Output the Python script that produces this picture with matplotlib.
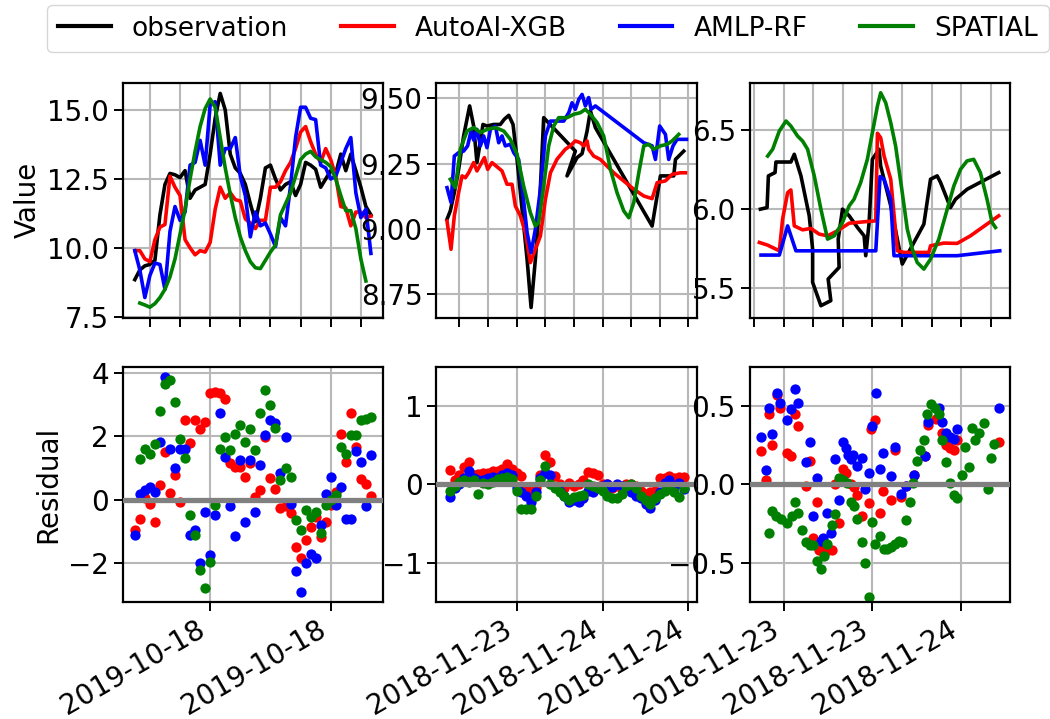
import numpy as np
import pandas as pd
import matplotlib
matplotlib.use('Agg')
import matplotlib.pyplot as plt
import matplotlib.dates as mdates

plt.rcParams['font.family'] = ['DejaVu Sans']
plt.rcParams['font.size'] = 20

labels = ['observation', 'AutoAI-XGB', 'AMLP-RF', 'SPATIAL']
colors = ['black', 'red', 'blue', 'green']
nan = np.nan

# --- site 1 (2019-10-18), 10 min steps, all series share the times
p1_times = pd.date_range('2019-10-18 09:30', periods=48, freq='10min')
p1_obs = [8.85, 9.2, 9.35, 9.4, 9.55, 11.2, 12.3, 12.7, 12.65, 12.55,
          12.8, 11.8, 12.1, 12.2, 12.3, 13.4, 14.7, 15.6, 15.0, 13.4,
          12.9, 12.7, 12.3, 11.6, 10.95, 11.8, 12.9, 13.0, 12.5, 12.1,
          12.3, 12.4, 11.9, 12.3, 13.1, 13.0, 12.85, 12.2, 12.5, 12.8,
          12.7, 13.4, 12.8, 13.4, 12.8, 12.2, 11.5, 11.2]
p1_xgb = [9.9, 9.9, 9.6, 9.5, 10.3, 10.75, 10.85, 12.6, 12.2, 11.9,
          10.3, 10.0, 9.75, 9.9, 9.85, 10.2, 11.4, 12.2, 11.8, 12.0,
          11.75, 11.7, 11.05, 10.9, 10.7, 11.0, 11.0, 12.2, 12.2, 12.4,
          12.8, 13.1, 13.6, 14.2, 14.4, 13.85, 13.4, 13.1, 13.6, 13.2,
          12.6, 11.5, 11.45, 10.8, 11.3, 11.3, 11.1, 11.15]
p1_rf = [9.9, 9.2, 8.2, 9.0, 9.45, 9.4, 8.5, 10.6, 11.5, 11.0,
         11.3, 13.0, 13.1, 13.9, 13.0, 15.2, 15.3, 13.0, 13.6, 13.6,
         14.0, 12.6, 11.9, 10.4, 11.3, 10.8, 10.9, 10.5, 10.05, 11.1,
         10.8, 12.25, 14.0, 15.1, 15.1, 14.7, 14.65, 13.0, 12.9, 12.5,
         12.6, 13.1, 13.6, 14.0, 12.0, 11.1, 11.4, 9.8]
p1_spatial = [nan, 8.0, 7.93, 7.85, 7.98, 8.2, 8.5, 8.95, 9.6, 10.5,
              11.4, 12.5, 13.5, 14.4, 15.05, 15.4, 15.1, 14.0, 12.9, 11.95,
              11.1, 10.4, 9.9, 9.5, 9.28, 9.25, 9.55, 9.85, 10.1, 11.2,
              11.6, 12.0, 12.6, 13.2, 13.4, 13.5, 13.3, 13.2, 13.1, 12.95,
              12.5, 11.9, 11.35, 11.35, 10.7, 9.6, 8.8, nan]
p1_res_xgb = [-0.97, -0.6, 0.05, -0.15, -0.7, 0.45, 1.5, 0.19, 0.77, -0.07,
              2.5, 1.77, 2.5, 2.24, 2.45, 3.37, 3.4, 3.35, 3.16, 1.14,
              1.03, 1.03, 0.72, 1.14, 0.08, 0.3, 1.98, 0.68, 0.33, -0.28,
              -0.2, -0.44, -1.5, -1.86, -1.28, -0.86, -0.55, -1.18, -0.7, -0.18,
              0.24, 2.08, 1.19, 2.72, 1.66, 0.66, 0.5, 0.1]
p1_res_rf = [-1.13, 0.17, 0.3, 0.4, 0.24, 1.82, 3.87, 1.61, 0.98, 1.61,
             1.61, -1.13, -0.95, -2.0, -0.39, -1.76, -0.49, 2.72, 1.33, -0.2,
             -1.16, 1.24, -0.7, 1.24, -0.39, 1.08, 2.03, 2.5, 2.42, 0.84,
             1.96, -0.13, -2.25, -2.92, -2.0, -1.71, -1.86, -0.81, 0.17, 0.72,
             -0.16, 0.4, -0.6, -0.62, 1.53, 1.19, -0.19, 1.42]
p1_res_spatial = [nan, 1.29, 1.6, 1.45, 1.75, 2.79, 3.66, 3.77, 3.08, 1.9,
                  1.32, -0.5, -1.13, -2.23, -2.78, -1.97, -0.16, 1.61, 1.98, 1.56,
                  2.08, 2.35, 1.82, 2.24, 1.56, 2.72, 3.45, 2.98, 2.27, 0.61,
                  0.98, 0.72, -0.65, -0.95, -0.34, -0.55, -0.39, -1.05, -0.18, -0.02,
                  0.14, 1.66, 1.45, 2.03, 2.03, 2.5, 2.54, 2.59]

# --- site 2 (from 2018-11-23), hours since midnight of the 23rd
p2_obs_h = [13.14, 13.37, 13.65, 13.95, 14.30, 14.72, 15.00, 15.23, 15.42, 15.65,
            15.93, 16.40, 16.86, 17.14, 17.45, 17.75, 18.03, 18.38, 18.73, 19.01,
            19.31, 19.61, 19.89, 22.10, 21.52, 22.22, 22.57, 22.92, 23.15, 23.50,
            27.46, 28.04, 28.51, 28.97, 29.09, 29.67]
p2_obs = [9.037, 9.069, 9.139, 9.228, 9.356, 9.471, 9.394, 9.254, 9.318, 9.400,
          9.394, 9.400, 9.400, 9.420, 9.435, 9.400, 9.266, 9.075, 8.884, 8.699,
          8.884, 9.101, 9.426, 9.298, 9.203, 9.273, 9.288, 9.375, 9.452, 9.388,
          9.011, 9.203, 9.203, 9.203, 9.266, 9.298]
p2_xgb_h = [13.14, 13.42, 13.65, 13.95, 14.19, 14.42, 14.65, 15.00, 15.23, 15.75,
            15.98, 16.28, 16.98, 17.33, 17.68, 17.91, 18.26, 18.61, 18.96, 19.31,
            19.66, 20.01, 20.36, 20.82, 21.40, 21.75, 22.10, 22.45, 22.69, 22.92,
            23.03, 23.38, 23.85, 24.78, 26.18, 26.88, 27.46, 27.81, 28.39, 28.86,
            29.44, 29.79]
p2_xgb = [9.030, 8.922, 9.050, 9.139, 9.203, 9.196, 9.215, 9.254, 9.222, 9.273,
          9.228, 9.254, 9.222, 9.171, 9.171, 9.088, 9.050, 8.986, 8.871, 8.922,
          8.973, 9.113, 9.215, 9.267, 9.305, 9.318, 9.337, 9.330, 9.318, 9.337,
          9.305, 9.279, 9.266, 9.215, 9.152, 9.126, 9.116, 9.177, 9.184, 9.209,
          9.215, 9.215]
p2_rf_h = [13.14, 13.42, 13.65, 13.95, 14.30, 14.58, 14.82, 15.00, 15.23, 15.47,
           15.70, 15.93, 16.17, 16.52, 16.75, 16.98, 17.21, 17.56, 17.80, 18.14,
           18.38, 18.73, 19.01, 19.31, 19.66, 20.01, 20.36, 20.82, 21.29, 21.64,
           21.87, 22.10, 22.34, 22.57, 22.80, 23.03, 23.20, 23.50, 26.88, 27.46,
           27.69, 27.99, 28.39, 28.62, 28.92, 29.20, 29.86]
p2_rf = [9.158, 9.101, 9.279, 9.292, 9.298, 9.318, 9.375, 9.340, 9.381, 9.318,
         9.356, 9.311, 9.381, 9.394, 9.330, 9.356, 9.318, 9.324, 9.292, 9.266,
         9.164, 8.986, 8.909, 8.999, 9.152, 9.356, 9.413, 9.413, 9.413, 9.445,
         9.483, 9.458, 9.496, 9.515, 9.471, 9.503, 9.458, 9.471, 9.330, 9.318,
         9.266, 9.394, 9.362, 9.266, 9.318, 9.343, 9.343]
p2_spatial_h = [13.37, 13.72, 14.07, 14.54, 15.00, 15.47, 15.93, 16.52, 17.10, 17.56,
                18.03, 18.49, 18.96, 19.31, 19.54, 19.89, 20.24, 20.59, 20.94, 21.52,
                21.99, 22.45, 22.80, 23.15, 23.62, 24.08, 24.55, 25.01, 25.48, 25.83,
                26.18, 26.53, 26.88, 27.23, 27.57, 28.04, 28.51, 28.86, 29.32]
p2_spatial = [9.190, 9.158, 9.305, 9.375, 9.388, 9.369, 9.381, 9.388, 9.375, 9.343,
              9.286, 9.164, 9.062, 9.011, 9.024, 9.164, 9.318, 9.394, 9.426, 9.426,
              9.439, 9.445, 9.458, 9.439, 9.407, 9.356, 9.228, 9.139, 9.069, 9.043,
              9.101, 9.215, 9.318, 9.324, 9.305, 9.318, 9.324, 9.337, 9.362]
p2_res_times = pd.date_range('2018-11-23 13:20', periods=50, freq='20min')
p2_res_xgb = [0.18, 0.05, 0.12, 0.22, 0.28, 0.12, 0.13, 0.15, 0.15, 0.17,
              0.17, 0.2, 0.26, 0.2, 0.15, 0.1, -0.05, -0.1, -0.05, 0.12,
              0.37, 0.29, 0.1, 0.0, -0.05, 0.02, -0.02, 0.0, 0.05, 0.16,
              0.15, 0.12, 0.0, 0.0, -0.05, -0.02, -0.05, 0.0, 0.0, -0.02,
              -0.08, -0.12, -0.1, -0.08, 0.08, 0.08, 0.1, 0.08, 0.09, 0.09]
p2_res_rf = [-0.16, -0.05, 0.0, 0.08, 0.17, 0.08, 0.05, 0.05, 0.08, 0.09,
             0.08, 0.12, 0.14, 0.12, -0.05, -0.1, -0.15, -0.22, -0.1, 0.08,
             0.15, 0.12, -0.03, -0.08, -0.15, -0.22, -0.2, -0.22, -0.18, -0.08,
             -0.1, -0.05, -0.02, 0.0, -0.03, 0.0, -0.02, -0.05, -0.1, -0.15,
             -0.17, -0.25, -0.3, -0.2, -0.1, 0.02, 0.05, -0.02, 0.02, -0.06]
p2_res_spatial = [-0.08, -0.02, 0.03, 0.05, 0.03, 0.05, -0.12, 0.02, 0.0, 0.03,
                  0.07, 0.08, 0.09, 0.07, -0.08, -0.31, -0.31, -0.31, -0.15, 0.05,
                  0.24, 0.0, -0.05, -0.1, -0.15, -0.2, -0.16, -0.15, -0.14, 0.0,
                  -0.02, -0.05, -0.08, -0.15, -0.18, -0.18, -0.12, -0.02, 0.0, -0.05,
                  -0.15, -0.2, -0.25, -0.18, -0.12, -0.08, -0.05, -0.1, -0.16, -0.05]

# --- site 3 (from 2018-11-23), hours since midnight of the 23rd
p3_obs_h = [10.43, 10.88, 10.97, 11.42, 11.48, 12.49, 12.72, 13.17, 13.73, 13.96,
            13.96, 14.52, 15.19, 15.01, 15.75, 15.69, 15.98, 16.43, 16.99, 17.44,
            17.55, 17.78, 18.00, 18.45, 18.56, 19.24, 20.02, 21.48, 21.93, 22.38,
            22.61, 23.28, 23.62, 24.40, 26.54]
p3_obs = [5.998, 6.008, 6.209, 6.230, 6.297, 6.297, 6.346, 6.209, 5.956, 5.745,
          5.534, 5.386, 5.418, 5.555, 5.629, 5.808, 5.998, 5.956, 5.882, 5.829,
          5.703, 5.914, 6.314, 6.378, 6.272, 6.019, 5.650, 5.903, 6.188, 6.209,
          6.167, 6.008, 6.061, 6.124, 6.230]
p3_xgb_h = [10.36, 10.92, 11.71, 11.93, 12.27, 12.49, 12.72, 13.28, 13.84, 14.40,
            14.97, 15.64, 16.43, 17.44, 18.23, 18.34, 18.56, 18.79, 19.24, 19.69,
            20.14, 21.82, 21.93, 22.83, 23.73, 24.63, 26.54]
p3_xgb = [5.787, 5.770, 5.734, 5.935, 6.103, 6.120, 5.892, 5.867, 5.876, 5.840,
          5.829, 5.861, 5.909, 5.918, 5.924, 6.479, 6.451, 6.335, 6.188, 5.734,
          5.724, 5.724, 5.766, 5.783, 5.781, 5.829, 5.956]
p3_rf_h = [10.47, 11.71, 12.27, 12.83, 13.62, 18.23, 18.52, 18.79, 19.24, 19.46,
           23.73, 26.61]
p3_rf = [5.707, 5.707, 5.892, 5.734, 5.734, 5.734, 6.205, 6.188, 6.061, 5.703,
         5.703, 5.734]
p3_spatial_h = [10.92, 11.26, 11.71, 12.16, 12.49, 12.94, 13.28, 13.62, 14.07, 14.52,
                14.97, 15.42, 15.98, 16.43, 16.76, 17.21, 17.66, 18.00, 18.34, 18.56,
                18.90, 19.24, 19.57, 20.02, 20.36, 20.70, 21.03, 21.48, 21.93, 22.49,
                23.06, 23.51, 23.96, 24.40, 24.85, 25.30, 25.75, 26.09, 26.32]
p3_spatial = [6.335, 6.378, 6.494, 6.557, 6.525, 6.462, 6.430, 6.378, 6.209, 5.998,
              5.808, 5.829, 5.914, 6.019, 6.061, 6.167, 6.314, 6.483, 6.652, 6.736,
              6.673, 6.546, 6.399, 6.103, 5.871, 5.745, 5.660, 5.618, 5.681, 5.808,
              5.998, 6.146, 6.251, 6.304, 6.314, 6.230, 6.061, 5.914, 5.882]
p3_res_xgb_h = [10.49, 10.78, 11.01, 11.24, 11.53, 11.75, 12.25, 12.47, 12.77, 12.99,
                13.49, 13.76, 14.00, 14.23, 14.39, 14.72, 14.99, 15.29, 15.47, 15.74,
                16.01, 16.19, 16.53, 16.75, 16.98, 17.27, 17.76, 17.94, 18.21, 18.51,
                18.73, 19.23, 19.50, 19.95, 20.24, 20.80, 21.59, 21.75, 22.27, 22.72,
                23.01, 23.28, 23.50, 23.73, 26.54]
p3_res_xgb = [0.21, 0.03, 0.45, 0.25, 0.57, 0.49, 0.20, 0.18, 0.45, 0.37,
              -0.01, 0.15, -0.34, -0.11, -0.42, -0.42, -0.42, -0.42, 0.00, -0.25,
              0.10, 0.07, 0.00, -0.02, -0.07, -0.20, -0.12, 0.35, 0.41, -0.18,
              -0.04, -0.10, 0.22, -0.08, -0.01, 0.06, 0.18, 0.38, 0.42, 0.33,
              0.25, 0.23, 0.22, 0.28, 0.27]
p3_res_rf_h = [10.49, 10.78, 11.01, 11.24, 11.53, 11.75, 12.25, 12.47, 12.77, 12.99,
               13.49, 13.76, 13.98, 14.23, 14.50, 14.68, 14.95, 15.17, 15.47, 15.74,
               16.01, 16.19, 16.37, 16.53, 16.71, 16.98, 17.31, 17.49, 17.76, 17.99,
               18.26, 18.51, 18.73, 19.23, 19.50, 19.95, 20.24, 20.80, 21.59, 21.75,
               22.49, 22.72, 23.01, 23.28, 23.50, 23.73, 26.54]
p3_res_rf = [0.30, 0.09, 0.49, 0.32, 0.58, 0.52, 0.41, 0.48, 0.61, 0.52,
             0.14, 0.27, -0.20, 0.04, -0.36, -0.34, -0.18, -0.31, 0.16, -0.10,
             0.27, 0.23, 0.19, 0.16, 0.19, 0.12, 0.17, -0.03, 0.07, 0.37,
             0.58, 0.10, 0.20, 0.05, 0.24, -0.06, -0.01, 0.06, 0.18, 0.40,
             0.49, 0.40, 0.33, 0.30, 0.29, 0.35, 0.49]
p3_res_spatial_h = [11.01, 11.24, 11.46, 11.80, 12.25, 12.59, 12.77, 12.99, 13.26, 13.49,
                    13.76, 14.00, 14.23, 14.50, 14.72, 14.95, 15.29, 15.47, 15.74, 16.01,
                    16.30, 16.53, 16.75, 16.98, 17.27, 17.49, 17.76, 17.99, 18.21, 18.51,
                    18.78, 19.00, 19.23, 19.50, 19.79, 20.01, 20.24, 20.51, 20.76, 21.03,
                    21.25, 21.48, 21.70, 21.93, 22.20, 22.49, 22.72, 23.01, 23.28, 23.50,
                    23.73, 24.07, 24.29, 24.52, 24.74, 24.97, 25.19, 25.53, 25.82, 26.05,
                    26.25]
p3_res_spatial = [-0.31, -0.17, -0.20, -0.22, -0.25, -0.20, -0.11, -0.18, -0.29, -0.37,
                  -0.39, -0.39, -0.49, -0.54, -0.46, -0.38, -0.26, -0.19, 0.04, 0.03,
                  0.01, -0.11, -0.14, -0.22, -0.37, -0.50, -0.72, -0.24, -0.38, -0.33,
                  -0.41, -0.41, -0.40, -0.38, -0.36, -0.37, -0.23, -0.11, 0.01, 0.15,
                  0.22, 0.28, 0.45, 0.51, 0.49, 0.45, 0.28, 0.14, 0.01, -0.07,
                  -0.09, 0.06, 0.24, 0.11, 0.36, 0.28, 0.33, 0.39, -0.03, 0.17,
                  0.26]


def hours_to_time(day, hours):
    return pd.Timestamp(day) + pd.to_timedelta(hours, unit='h')


d1 = '2019-10-18'
d2 = '2018-11-23'

# one entry per column: (x, y) pairs for the four lines, residual pairs, limits
columns = [
    dict(lines=[(p1_times, p1_obs), (p1_times, p1_xgb), (p1_times, p1_rf), (p1_times, p1_spatial)],
         res=[(p1_times, p1_res_xgb), (p1_times, p1_res_rf), (p1_times, p1_res_spatial)],
         xlim=(hours_to_time(d1, 9.103), hours_to_time(d1, 17.741)),
         top_ylim=(7.47, 15.99), top_yticks=[7.5, 10, 12.5, 15],
         res_ylim=(-3.23, 4.19), res_yticks=[-2, 0, 2, 4],
         minor_step=1, major_step=4),
    dict(lines=[(hours_to_time(d2, p2_obs_h), p2_obs), (hours_to_time(d2, p2_xgb_h), p2_xgb),
                (hours_to_time(d2, p2_rf_h), p2_rf), (hours_to_time(d2, p2_spatial_h), p2_spatial)],
         res=[(p2_res_times, p2_res_xgb), (p2_res_times, p2_res_rf), (p2_res_times, p2_res_spatial)],
         xlim=(hours_to_time(d2, 12.392), hours_to_time(d2, 30.57)),
         top_ylim=(8.66, 9.56), top_yticks=[8.75, 9.0, 9.25, 9.5],
         res_ylim=(-1.5, 1.5), res_yticks=[-1, 0, 1],
         minor_step=2, major_step=6),
    dict(lines=[(hours_to_time(d2, p3_obs_h), p3_obs), (hours_to_time(d2, p3_xgb_h), p3_xgb),
                (hours_to_time(d2, p3_rf_h), p3_rf), (hours_to_time(d2, p3_spatial_h), p3_spatial)],
         res=[(hours_to_time(d2, p3_res_xgb_h), p3_res_xgb), (hours_to_time(d2, p3_res_rf_h), p3_res_rf),
              (hours_to_time(d2, p3_res_spatial_h), p3_res_spatial)],
         xlim=(hours_to_time(d2, 9.71), hours_to_time(d2, 27.31)),
         top_ylim=(5.31, 6.80), top_yticks=[5.5, 6.0, 6.5],
         res_ylim=(-0.75, 0.75), res_yticks=[-0.5, 0.0, 0.5],
         minor_step=2, major_step=6),
]

fig, axes = plt.subplots(2, 3, figsize=(10.5, 7.19), dpi=100)
fig.subplots_adjust(left=0.117, right=0.962, bottom=0.163, top=0.885,
                    wspace=0.204, hspace=0.209)

for j, col in enumerate(columns):
    ax = axes[0, j]
    for (x, y), c in zip(col['lines'], colors):
        ax.plot(x, y, color=c, lw=2.6)
    ax.set_xlim(col['xlim'])
    ax.set_ylim(col['top_ylim'])
    ax.set_yticks(col['top_yticks'])
    ax.xaxis.set_major_locator(mdates.HourLocator(byhour=range(0, 24, col['minor_step'])))
    ax.tick_params(labelbottom=False)

    ax = axes[1, j]
    for (x, y), c in zip(col['res'], colors[1:]):
        ax.scatter(x, y, color=c, s=55, zorder=2.5, linewidths=0)
    ax.axhline(0, color='gray', lw=3.8, zorder=3)
    ax.set_xlim(col['xlim'])
    ax.set_ylim(col['res_ylim'])
    ax.set_yticks(col['res_yticks'])
    ax.xaxis.set_major_locator(mdates.HourLocator(byhour=range(0, 24, col['major_step'])))
    ax.xaxis.set_major_formatter(mdates.DateFormatter('%Y-%m-%d'))
    for lbl in ax.get_xticklabels():
        lbl.set_rotation(30)
        lbl.set_ha('right')

for ax in axes.flat:
    ax.grid(True, color='#b8b8b8', lw=1.5)
    ax.tick_params(length=6.5, width=1.4, labelsize=20)
    for s in ax.spines.values():
        s.set_linewidth(1.6)

axes[0, 0].set_ylabel('Value', fontsize=20)
axes[1, 0].set_ylabel('Residual', fontsize=20)

handles = axes[0, 0].get_lines()
leg = fig.legend(handles, labels, loc='upper left', bbox_to_anchor=(0.045, 0.993),
                 ncol=4, fontsize=19, borderaxespad=0.)
for h in leg.get_lines():
    h.set_linewidth(3)

fig.savefig('out.png', dpi=100)
